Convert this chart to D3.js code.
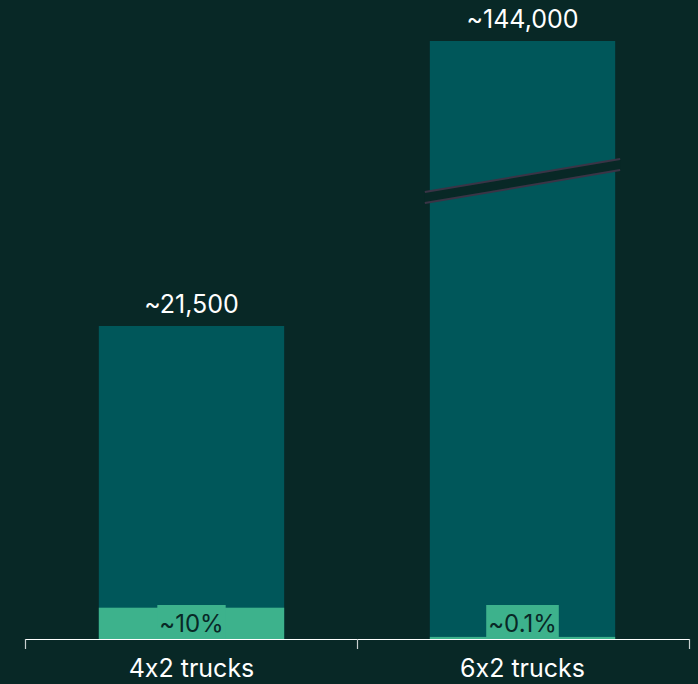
<!DOCTYPE html>
<html>
<head>
<meta charset="utf-8">
<script src="https://cdn.jsdelivr.net/npm/d3@7"></script>
<style>
  html, body { margin: 0; padding: 0; background: #082826; }
  svg { display: block; }
  text { font-family: Inter, "Open Sans", sans-serif; font-feature-settings: "calt" 0; font-variant-ligatures: none; }
</style>
</head>
<body>
<svg id="chart" width="698" height="684"></svg>
<script>
// Fleet sizes by truck configuration and the share of each fleet
const categories = ["4x2 trucks", "6x2 trucks"];
const totals = [21500, 144000];
const totalLabels = ["~21,500", "~144,000"];
const shares = [10, 0.1];               // percent
const shareLabels = ["~10%", "~0.1%"];

const W = 698, H = 684;
const left = 25, right = 689, baseY = 639;
const colors = { bg: "#082826", bar: "#00575a", share: "#3db28c", breakLine: "#3a3446", text: "#ffffff", dark: "#082826" };

const svg = d3.select("#chart");

const x = d3.scaleBand()
  .domain(categories)
  .range([left, right])
  .paddingInner(0.44)
  .paddingOuter(0.223);

// Broken value axis: linear up to the break, compressed above it
const breakValue = 31250;
const pxPerUnit = 313 / 21500;
const y = d3.scaleLinear()
  .domain([0, breakValue, 144000])
  .range([baseY, baseY - breakValue * pxPerUnit, 41]);

const data = categories.map((c, i) => ({
  cat: c, total: totals[i], totalLabel: totalLabels[i],
  share: shares[i], shareLabel: shareLabels[i],
  part: totals[i] * shares[i] / 100
}));

const g = svg.append("g");

// Full bars
g.selectAll("rect.total").data(data).join("rect")
  .attr("class", "total")
  .attr("x", d => x(d.cat))
  .attr("width", x.bandwidth())
  .attr("y", d => y(d.total))
  .attr("height", d => baseY - y(d.total))
  .attr("fill", colors.bar);

// Share segments
g.selectAll("rect.share").data(data).join("rect")
  .attr("class", "share")
  .attr("x", d => x(d.cat))
  .attr("width", x.bandwidth())
  .attr("y", d => y(d.part))
  .attr("height", d => baseY - y(d.part))
  .attr("fill", colors.share);

// Axis break on bars that exceed the break value
const broken = data.filter(d => d.total > breakValue * 1.5);
broken.forEach(d => {
  const x0 = x(d.cat) - 5, x1 = x(d.cat) + x.bandwidth() + 5;
  const yc = y(breakValue) - 3;
  const rise = 33, gap = 11;
  const yL = yc + rise / 2, yR = yc - rise / 2;
  g.append("path")
    .attr("d", `M${x0},${yL - gap / 2}L${x1},${yR - gap / 2}L${x1},${yR + gap / 2}L${x0},${yL + gap / 2}Z`)
    .attr("fill", colors.bg);
  [-gap / 2, gap / 2].forEach(off => {
    g.append("line")
      .attr("x1", x0).attr("y1", yL + off)
      .attr("x2", x1).attr("y2", yR + off)
      .attr("stroke", colors.breakLine).attr("stroke-width", 2);
  });
});

// Total labels above bars
g.selectAll("text.total").data(data).join("text")
  .attr("class", "total")
  .attr("x", d => x(d.cat) + x.bandwidth() / 2)
  .attr("y", d => y(d.total) - 13)
  .attr("text-anchor", "middle")
  .attr("fill", colors.text)
  .attr("font-size", 25)
  .text(d => d.totalLabel);

// Share labels in boxes at the base
const shareG = g.selectAll("g.shareLabel").data(data).join("g")
  .attr("class", "shareLabel")
  .attr("transform", d => `translate(${x(d.cat) + x.bandwidth() / 2},${baseY})`);
shareG.append("text")
  .attr("y", -7)
  .attr("text-anchor", "middle")
  .attr("fill", colors.dark)
  .attr("font-size", 24)
  .text(d => d.shareLabel)
  .each(function() {
    const bb = this.getBBox();
    d3.select(this.parentNode).insert("rect", "text")
      .attr("x", bb.x - 2)
      .attr("width", bb.width + 4)
      .attr("y", -34)
      .attr("height", 34)
      .attr("fill", colors.share);
  });

// Category axis
const axisG = svg.append("g").attr("transform", `translate(0,${baseY})`);
axisG.append("line")
  .attr("x1", left).attr("x2", right)
  .attr("y1", 0.5).attr("y2", 0.5)
  .attr("stroke", "#ffffff").attr("stroke-width", 1.2);
const bounds = [left].concat(categories.map(c => x(c) - x.step() * x.paddingInner() / 2 + x.step()));
bounds[bounds.length - 1] = right;
axisG.selectAll("line.tick").data(bounds).join("line")
  .attr("class", "tick")
  .attr("x1", d => d + 0.5).attr("x2", d => d + 0.5)
  .attr("y1", 0).attr("y2", 10)
  .attr("stroke", "#c8d0cf").attr("stroke-width", 1.2);
axisG.selectAll("text.cat").data(categories).join("text")
  .attr("class", "cat")
  .attr("x", d => x(d) + x.bandwidth() / 2)
  .attr("y", 38)
  .attr("text-anchor", "middle")
  .attr("fill", colors.text)
  .attr("font-size", 25)
  .text(d => d);
</script>
</body>
</html>
